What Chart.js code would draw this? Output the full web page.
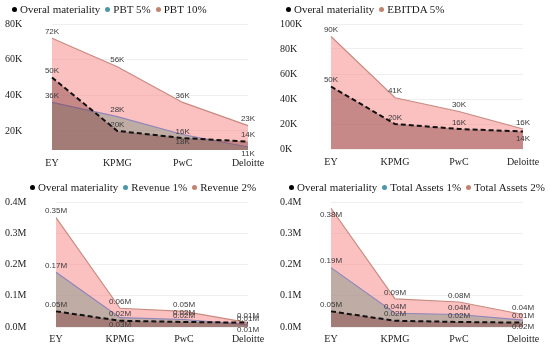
<!DOCTYPE html>
<html>
<head>
<meta charset="utf-8">
<script src="https://cdn.jsdelivr.net/npm/chart.js@4.4.0/dist/chart.umd.min.js"></script>
<style>
  html, body { margin:0; padding:0; background:#fff; }
  #wrap { position:relative; width:550px; height:346px; overflow:hidden; }
  canvas { position:absolute; }
  .legend { position:absolute; display:flex; align-items:center; white-space:nowrap;
            font-family:"Liberation Serif","Times New Roman",serif; font-size:11px; color:#1a1a1a; height:14px; }
  .legend .dot { display:inline-block; width:5px; height:5px; border-radius:50%; margin-right:3px; }
  .legend .item { display:flex; align-items:center; margin-right:5px; }
</style>
</head>
<body>
<div id="wrap">
  <canvas id="c1" width="275" height="173" style="left:0;top:0"></canvas>
  <canvas id="c2" width="275" height="173" style="left:275px;top:0"></canvas>
  <canvas id="c3" width="275" height="173" style="left:0;top:173px"></canvas>
  <canvas id="c4" width="275" height="173" style="left:275px;top:173px"></canvas>
  <div class="legend" id="l1" style="left:12px;top:2px"></div>
  <div class="legend" id="l2" style="left:286px;top:2px"></div>
  <div class="legend" id="l3" style="left:30px;top:180px"></div>
  <div class="legend" id="l4" style="left:289px;top:180px"></div>
</div>
<script>
// ---- data ----
const categories = ['EY', 'KPMG', 'PwC', 'Deloitte'];
const overall   = [50000, 20000, 16000, 14000];
const pbt5      = [36000, 28000, 18000, 11000];
const pbt10     = [72000, 56000, 36000, 23000];
const ebitda5   = [90000, 41000, 30000, 16000];
const revenue1  = [175000, 30000, 24000, 7000];
const revenue2  = [350000, 60000, 50000, 14000];
const assets1   = [190000, 44000, 40000, 22000];
const assets2   = [380000, 90000, 80000, 40000];
const ticksPBT    = [20000, 40000, 60000, 80000];
const ticksEBITDA = [0, 20000, 40000, 60000, 80000, 100000];
const ticksM      = [0, 100000, 200000, 300000, 400000];

// ---- styles ----
const C = {
  overallLine: '#111111', overallFill: 'rgba(125,55,55,0.41)', overallDot: '#000000',
  lowLine: '#8e86bb', lowFill: 'rgba(103,142,125,0.40)', lowDot: '#4a98a8',
  highLine: '#c98b80', highFill: 'rgba(247,140,140,0.55)', highDot: '#c0846e'
};

const fmtK = v => Math.round(v / 1000) + 'K';
const fmtM = v => (v / 1e6).toFixed(2) + 'M';
const fmtTickM = v => (v / 1e6).toFixed(1) + 'M';
const labelFormats = {};

const labelPlugin = {
  id: 'dataLabels',
  afterDatasetsDraw(chart) {
    const ctx = chart.ctx;
    const fmt = labelFormats[chart.canvas.id];
    ctx.save();
    ctx.font = '8px "Liberation Sans", Arial, sans-serif';
    ctx.fillStyle = '#3a3a3a';
    ctx.textAlign = 'center';
    ctx.textBaseline = 'middle';
    chart.data.datasets.forEach((ds, i) => {
      const meta = chart.getDatasetMeta(i);
      meta.data.forEach((pt, j) => {
        const pos = (ds.labelPos || [])[j] || 'a';
        const y = pos === 'a' ? pt.y - 6.5 : pt.y + 7;
        ctx.fillText(fmt(ds.data[j]), pt.x, y);
      });
    });
    ctx.restore();
  }
};

function ds(label, data, kind, labelPos) {
  const base = { label, data, fill: 'start', pointRadius: 0, tension: 0, labelPos };
  if (kind === 'overall') return Object.assign(base, { borderColor: C.overallLine, borderWidth: 2, borderDash: [5, 3], backgroundColor: C.overallFill });
  if (kind === 'low') return Object.assign(base, { borderColor: C.lowLine, borderWidth: 1.2, backgroundColor: C.lowFill });
  return Object.assign(base, { borderColor: C.highLine, borderWidth: 1.2, backgroundColor: C.highFill });
}

function legend(id, items) {
  const el = document.getElementById(id);
  items.forEach(([txt, col]) => {
    const it = document.createElement('span'); it.className = 'item';
    const d = document.createElement('span'); d.className = 'dot'; d.style.background = col;
    const t = document.createElement('span'); t.textContent = txt;
    it.appendChild(d); it.appendChild(t); el.appendChild(it);
  });
}

function makeChart(id, datasets, yMin, yMax, tickVals, tickFmt, labelFmt, area, xPad) {
  labelFormats[id] = labelFmt;
  new Chart(document.getElementById(id), {
    type: 'line',
    data: { labels: categories, datasets },
    options: {
      responsive: false, animation: false, devicePixelRatio: 1,
      layout: { padding: { left: 5, top: area.top, right: 275 - area.right, bottom: 0 } },
      plugins: { legend: { display: false }, tooltip: { enabled: false } },
      scales: {
        x: {
          offset: false,
          grid: { display: false, drawTicks: false }, border: { display: false },
          ticks: { autoSkip: false, maxRotation: 0, padding: xPad, color: '#222',
                   font: { family: '"Liberation Serif","Times New Roman",serif', size: 10 } },
          afterFit(s) { s.height = 173 - area.bottom; }
        },
        y: {
          min: yMin, max: yMax,
          afterBuildTicks(s) { s.ticks = tickVals.map(v => ({ value: v })); },
          afterFit(s) { s.width = area.left - 5; },
          grid: { color: '#efefef', drawTicks: false }, border: { display: false },
          ticks: { crossAlign: 'far', padding: 0, color: '#222', callback: v => tickFmt(v),
                   font: { family: '"Liberation Serif","Times New Roman",serif', size: 10 } }
        }
      }
    },
    plugins: [labelPlugin]
  });
}

// Panel 1
makeChart('c1', [
  ds('Overal materiality', overall, 'overall', ['a','a','a','a']),
  ds('PBT 5%', pbt5, 'low', ['a','a','b','b']),
  ds('PBT 10%', pbt10, 'high', ['a','a','a','a'])
], 9300, 80000, ticksPBT, fmtK, fmtK, { left: 52, right: 248, top: 24, bottom: 150 }, 7);
legend('l1', [['Overal materiality', C.overallDot], ['PBT 5%', C.lowDot], ['PBT 10%', C.highDot]]);

// Panel 2
makeChart('c2', [
  ds('Overal materiality', overall, 'overall', ['a','a','a','b']),
  ds('EBITDA 5%', ebitda5, 'high', ['a','a','a','a'])
], 0, 100000, ticksEBITDA, fmtK, fmtK, { left: 56, right: 248, top: 24, bottom: 149 }, 7);
legend('l2', [['Overal materiality', C.overallDot], ['EBITDA 5%', C.highDot]]);

// Panel 3
makeChart('c3', [
  ds('Overal materiality', overall, 'overall', ['a','a','a','b']),
  ds('Revenue 1%', revenue1, 'low', ['a','b','a','a']),
  ds('Revenue 2%', revenue2, 'high', ['a','a','a','a'])
], 0, 400000, ticksM, fmtTickM, fmtM, { left: 56, right: 248, top: 29, bottom: 154 }, 6);
legend('l3', [['Overal materiality', C.overallDot], ['Revenue 1%', C.lowDot], ['Revenue 2%', C.highDot]]);

// Panel 4
makeChart('c4', [
  ds('Overal materiality', overall, 'overall', ['a','a','a','a']),
  ds('Total Assets 1%', assets1, 'low', ['a','a','a','b']),
  ds('Total Assets 2%', assets2, 'high', ['b','a','a','a'])
], 0, 400000, ticksM, fmtTickM, fmtM, { left: 56, right: 248, top: 29, bottom: 154 }, 6);
legend('l4', [['Overal materiality', C.overallDot], ['Total Assets 1%', C.lowDot], ['Total Assets 2%', C.highDot]]);
</script>
</body>
</html>
